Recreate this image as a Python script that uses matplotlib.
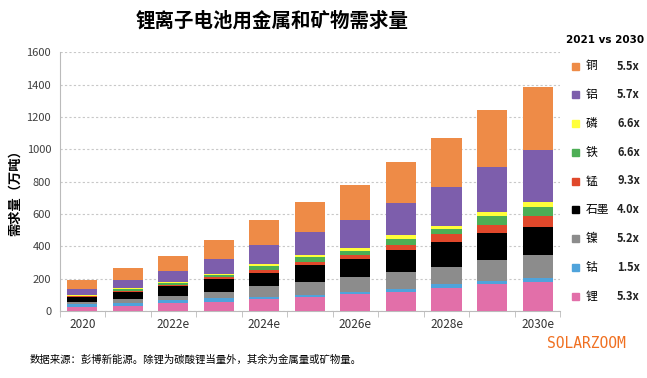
import matplotlib.pyplot as plt
import numpy as np

plt.rcParams['font.family'] = ['Noto Sans CJK SC', 'DejaVu Sans']

years = ['2020', '2021', '2022e', '2023e', '2024e', '2025e', '2026e', '2027e', '2028e', '2029e', '2030e']
shown_labels = ['2020', '', '2022e', '', '2024e', '', '2026e', '', '2028e', '', '2030e']

# bottom to top
materials = ['锂', '钴', '镍', '石墨', '锰', '铁', '磷', '铝', '铜']
lithium   = [28, 33, 47, 58, 72, 85, 103, 117, 144, 165, 181]
cobalt    = [15, 17, 20, 20, 16, 14, 16, 21, 21, 22, 25]
nickel    = [14, 27, 27, 41, 67, 82, 91, 105, 109, 128, 138]
graphite  = [30, 43, 62, 79, 80, 101, 111, 134, 154, 167, 175]
manganese = [4, 7, 6, 12, 16, 23, 23, 31, 46, 49, 70]
iron      = [5, 8, 12, 10, 25, 27, 27, 35, 33, 58, 54]
phosphor  = [4, 5, 8, 9, 13, 12, 16, 25, 20, 25, 29]
aluminium = [36, 55, 66, 92, 119, 144, 177, 197, 241, 278, 323]
copper    = [56, 70, 95, 118, 154, 184, 215, 254, 299, 350, 391]
growth = ['5.3x', '1.5x', '5.2x', '4.0x', '9.3x', '6.6x', '6.6x', '5.7x', '5.5x']

series = [lithium, cobalt, nickel, graphite, manganese, iron, phosphor, aluminium, copper]
colors = ['#E26FA9', '#4FA3DB', '#8C8C8C', '#000000', '#E0482B',
          '#4DAE55', '#FFFF3A', '#7D5EAC', '#EE8B47']

fig = plt.figure(figsize=(6.47, 3.78), dpi=100)
ax = fig.add_axes([0.092, 0.177, 0.774, 0.685])

x = np.arange(len(years))
bottom = np.zeros(len(years))
for vals, c in zip(series, colors):
    ax.bar(x, vals, width=0.66, bottom=bottom, color=c, edgecolor='none', zorder=3)
    bottom += np.array(vals)

ax.set_xlim(-0.5, len(years) - 0.5)
ax.set_ylim(0, 1600)
ax.set_yticks(np.arange(0, 1601, 200))
ax.yaxis.grid(True, color='#C8C8C8', linestyle=(0, (2, 2)), linewidth=0.8, zorder=0)
ax.tick_params(axis='y', length=0, labelsize=8, colors='#404040', pad=6)

ax.set_xticks(x)
ax.set_xticklabels(shown_labels, fontsize=8.5, color='#333333')
ax.set_xticks(np.arange(-0.5, len(years), 1), minor=True)
ax.tick_params(axis='x', which='major', length=0, pad=5)
ax.tick_params(axis='x', which='minor', length=4, color='#BBBBBB')

for s in ['top', 'right']:
    ax.spines[s].set_visible(False)
ax.spines['left'].set_color('#BBBBBB')
ax.spines['bottom'].set_color('#BBBBBB')

ax.set_ylabel('需求量（万吨）', fontsize=9.5, fontweight='bold', labelpad=4)
ax.yaxis.set_label_coords(-0.075, 0.47)

fig.text(0.42, 0.945, '锂离子电池用金属和矿物需求量', ha='center', va='center',
         fontsize=14, fontweight='bold')

# side legend with growth multiples
fig.text(0.935, 0.894, '2021 vs 2030', ha='center', va='center',
         fontsize=7.5, fontweight='bold', family=['Liberation Sans Narrow', 'DejaVu Sans'])
ys = np.linspace(66, 296, len(materials))
for yy, name, c, g in zip(ys, materials[::-1], colors[::-1], growth[::-1]):
    fy = 1 - yy / 378
    fig.patches.append(plt.Rectangle((572 / 647, fy - 3.5 / 378), 7 / 647, 7 / 378,
                                     transform=fig.transFigure, color=c, figure=fig))
    fig.text(586 / 647, fy, name, ha='left', va='center', fontsize=8.5)
    fig.text(640 / 647, fy, g, ha='right', va='center', fontsize=8, fontweight='bold',
             color='#222222')

fig.text(30 / 647, 1 - 360 / 378, '数据来源：彭博新能源。除锂为碳酸锂当量外，其余为金属量或矿物量。',
         ha='left', va='center', fontsize=7.5, style='italic')
fig.text(586 / 647, 1 - 343 / 378, 'SOLARZOOM', ha='center', va='center',
         fontsize=10.5, color='#F07021', family='DejaVu Sans Mono')

fig.savefig('out.png', dpi=100)
